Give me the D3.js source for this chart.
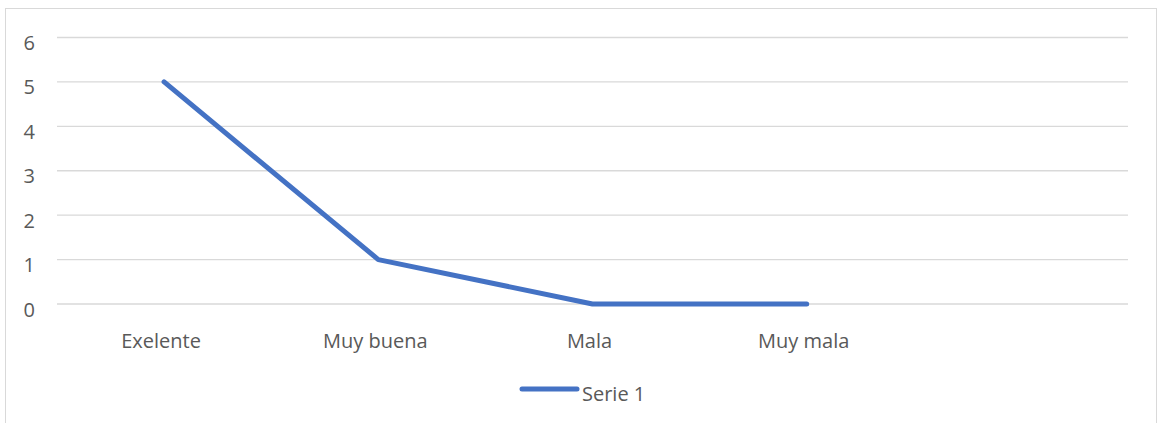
<!DOCTYPE html>
<html>
<head>
<meta charset="utf-8">
<script src="https://cdn.jsdelivr.net/npm/d3@7"></script>
<style>
  body { margin: 0; background: #fff; }
  .tick text { font-family: "Open Sans", sans-serif; font-size: 20px; fill: #595959; }
  .label { font-family: "Open Sans", sans-serif; font-size: 20px; fill: #595959; }
</style>
</head>
<body>
<svg id="chart"></svg>
<script>
const w = 1162, h = 423;
const margins = { top: 37.5, right: 34, bottom: 119, left: 57 };

// data
const categories = ["Exelente", "Muy buena", "Mala", "Muy mala", ""];
const serie1 = [5, 1, 0, 0, null];
const yTicks = [0, 1, 2, 3, 4, 5, 6];
const seriesName = "Serie 1";

const chart = d3.select('#chart')
  .attr('width', w)
  .attr('height', h);

// chart area border
chart.append('rect')
  .attr('x', 5.5)
  .attr('y', 8.5)
  .attr('width', 1151)
  .attr('height', 430)
  .style('fill', 'none')
  .style('stroke', '#d9d9d9')
  .style('stroke-width', 1);

const xScale = d3.scaleBand()
  .domain(categories.map((c, i) => i))
  .range([margins.left, w - margins.right]);

const yScale = d3.scaleLinear()
  .domain([0, 6])
  .range([h - margins.bottom, margins.top]);

// gridlines
chart.append('g')
  .selectAll('line')
  .data(yTicks)
  .join('line')
  .attr('x1', margins.left)
  .attr('x2', w - margins.right)
  .attr('y1', d => yScale(d))
  .attr('y2', d => yScale(d))
  .style('stroke', '#d9d9d9')
  .style('stroke-width', 1.3);

// Y AXIS
const yAxis = chart.append('g')
  .attr('transform', `translate(${35}, ${0})`)
  .call(d3.axisLeft(yScale).tickValues(yTicks).tickSize(0).tickPadding(0).tickFormat(d3.format('d')));
yAxis.select('.domain').remove();
yAxis.selectAll('.tick text').attr('dy', null).attr('y', 12);

// X AXIS
const xAxis = chart.append('g')
  .attr('transform', `translate(${-3}, ${h - margins.bottom})`)
  .call(d3.axisBottom(xScale).tickSize(0).tickPadding(30).tickFormat(i => categories[i]));
xAxis.select('.domain').remove();

// line
const line = d3.line()
  .defined(d => d != null)
  .x((d, i) => xScale(i) + xScale.bandwidth() / 2)
  .y(d => yScale(d));

chart.append('path')
  .datum(serie1)
  .attr('d', line)
  .style('fill', 'none')
  .style('stroke', '#4472c4')
  .style('stroke-width', 5)
  .style('stroke-linecap', 'round')
  .style('stroke-linejoin', 'round');

// LEGEND
const legend = chart.append('g')
  .attr('transform', `translate(${522}, ${389})`);
legend.append('line')
  .attr('x1', 0).attr('x2', 55)
  .attr('y1', 0).attr('y2', 0)
  .style('stroke', '#4472c4')
  .style('stroke-width', 5)
  .style('stroke-linecap', 'round');
legend.append('text')
  .attr('class', 'label')
  .attr('x', 60)
  .attr('y', 12)
  .text(seriesName);
</script>
</body>
</html>
